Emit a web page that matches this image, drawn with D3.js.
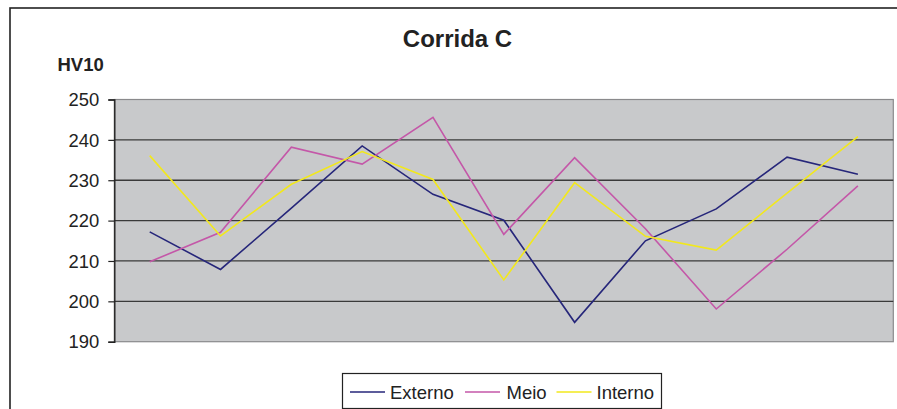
<!DOCTYPE html>
<html><head><meta charset="utf-8">
<script src="https://cdn.jsdelivr.net/npm/d3@7"></script>
<style>body{margin:0;background:#fff}svg{display:block;font-family:Arial,"Liberation Sans",sans-serif}</style>
</head><body><svg id="c" width="897" height="409"></svg>
<script>
const categories = [1,2,3,4,5,6,7,8,9,10,11];
const externo = [217.2, 207.9, 223.1, 238.5, 226.5, 220.1, 194.8, 215.0, 222.9, 235.7, 231.5];
const meio    = [209.8, 217.1, 238.2, 234.0, 245.6, 216.6, 235.6, 218.0, 198.1, 212.9, 228.6];
const interno = [236.1, 216.2, 229.0, 237.1, 230.2, 205.3, 229.4, 216.1, 212.7, 226.8, 240.8];
const yTicks = [190, 200, 210, 220, 230, 240, 250];
const seriesNames = ["Externo", "Meio", "Interno"];
const seriesColors = ["#26267a", "#c457a8", "#f2e81c"];
const title = "Corrida C";
const yLabel = "HV10";

const svg = d3.select("#c");
const L = 114.3, R = 893.3, T = 99.5, B = 341.7;
const x = d3.scaleBand().domain(categories).range([L, R]);
const y = d3.scaleLinear().domain([190, 250]).range([B, T]);

// outer border
svg.append("rect").attr("x", 10).attr("y", 8).attr("width", 900).attr("height", 420)
  .attr("fill", "#fff").attr("stroke", "#222").attr("stroke-width", 1.6);

// plot area
svg.append("rect").attr("x", L).attr("y", T).attr("width", R - L).attr("height", B - T)
  .attr("fill", "#c8c9cb").attr("stroke", "#8a8a8c").attr("stroke-width", 1.2);

// gridlines
svg.append("g").selectAll("line").data(yTicks.filter(t => t > 190 && t < 250)).join("line")
  .attr("x1", L).attr("x2", R).attr("y1", d => y(d)).attr("y2", d => y(d))
  .attr("stroke", "#3a3a3a").attr("stroke-width", 1.3);

// y axis
const yAxis = d3.axisLeft(y).tickValues(yTicks).tickSize(6).tickPadding(8).tickFormat(d3.format("d"));
const ga = svg.append("g").attr("transform", `translate(${L},0)`).call(yAxis);
ga.select(".domain").attr("stroke", "#222").attr("stroke-width", 1.4);
ga.selectAll(".tick line").attr("stroke", "#222").attr("stroke-width", 1.2);
ga.selectAll(".tick text").attr("font-size", 18.4).attr("fill", "#222")
  .attr("font-family", "Arial, 'Liberation Sans', sans-serif").attr("dy", "0.34em").attr("x", -15);

// lines
const line = d3.line().x((d, i) => x(categories[i]) + x.bandwidth() / 2).y(d => y(d));
[externo, meio, interno].forEach((s, k) => {
  svg.append("path").datum(s).attr("d", line).attr("fill", "none")
    .attr("stroke", seriesColors[k]).attr("stroke-width", 1.6).attr("stroke-linejoin", "miter");
});

// title and y label
svg.append("text").attr("x", 457.5).attr("y", 47).attr("text-anchor", "middle")
  .attr("font-size", 24).attr("font-weight", "bold").attr("fill", "#222").text(title);
svg.append("text").attr("x", 57.5).attr("y", 71).attr("font-size", 18.5)
  .attr("font-weight", "bold").attr("fill", "#222").text(yLabel);

// legend
const lg = svg.append("g");
lg.append("rect").attr("x", 342.5).attr("y", 373.5).attr("width", 319).attr("height", 35)
  .attr("fill", "#fff").attr("stroke", "#222").attr("stroke-width", 1.2);
const lineX = [350, 465, 556.5];
const textX = [390, 506.5, 596.5];
seriesNames.forEach((n, k) => {
  lg.append("line").attr("x1", lineX[k]).attr("x2", lineX[k] + 35).attr("y1", 392).attr("y2", 392)
    .attr("stroke", seriesColors[k]).attr("stroke-width", 1.6);
  lg.append("text").attr("x", textX[k]).attr("y", 398.5).attr("font-size", 18.5).attr("fill", "#222").text(n);
});
</script></body></html>
